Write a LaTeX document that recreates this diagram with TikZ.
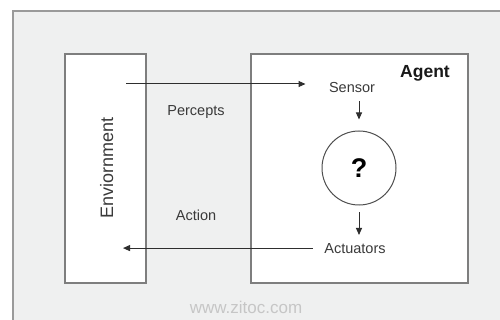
\documentclass[tikz,border=0pt]{standalone}
\usepackage{fontspec}
\setmainfont{Liberation Sans}
\usetikzlibrary{arrows.meta}
\definecolor{panel}{HTML}{EFF0F0}
\definecolor{framegray}{HTML}{9A9A9A}
\definecolor{boxgray}{HTML}{7E7E7E}
\definecolor{ink}{HTML}{3A3A3A}
\definecolor{mark}{HTML}{C6C6C6}
\begin{document}
\begin{tikzpicture}[x=1pt,y=-1pt,
  box/.style={draw=boxgray, line width=1.5pt, fill=white, rectangle, inner sep=0pt},
  lbl/.style={text=ink, font=\fontsize{14.5}{17}\selectfont, anchor=base},
  arr/.style={draw=ink!80!black, line width=1pt, -{Triangle[length=7pt,width=6pt]}}]
  \useasboundingbox (0,0) rectangle (500,320);
  % background and outer panel
  \fill[white] (0,0) rectangle (500,320);
  \fill[panel] (13,11) rectangle (500,320);
  \draw[framegray, line width=2pt] (13,321) -- (13,11) -- (501,11);

  % the two blocks
  \node[box, minimum width=81pt, minimum height=229pt] (env) at (105.5,168.5) {};
  \node[box, minimum width=217pt, minimum height=229pt] (agent) at (359.5,168.5) {};

  % labels
  \node[text=ink, font=\fontsize{18}{21}\selectfont, rotate=90, anchor=base] (envlbl) at (113,168) {Enviornment};
  \node[anchor=base, font=\bfseries\fontsize{17.5}{20}\selectfont, text=black!90] (agentlbl) at (425,78) {Agent};
  \node[lbl] (sensor) at (352,93) {Sensor};
  \node[lbl] (actuators) at (355,253) {Actuators};
  \node[lbl] (percepts) at (196,116) {Percepts};
  \node[lbl] (action) at (196,221) {Action};

  % decision unit
  \node[draw=ink!90, line width=1pt, circle, minimum size=74pt, inner sep=0pt,
        font=\bfseries\fontsize{27}{30}\selectfont] (brain) at (359,168) {?};

  % connectors
  \coordinate (penv) at (126,84);
  \coordinate (aenv) at (123,248);
  \draw[arr, shorten >=20pt] (penv) -- (penv -| sensor.west);
  \draw[arr, shorten <=4.5pt, shorten >=11pt] (sensor.south -| brain.north) -- (brain.north);
  \draw[arr, shorten <=7pt, shorten >=4.5pt] (brain.south) -- (brain.south |- actuators.north);
  \draw[arr, shorten <=8pt] (actuators.west) -- (actuators.west -| aenv);

  % watermark
  \node[anchor=base, text=mark, font=\fontsize{17}{20}\selectfont] (site) at (246,313) {www.zitoc.com};
\end{tikzpicture}
\end{document}
